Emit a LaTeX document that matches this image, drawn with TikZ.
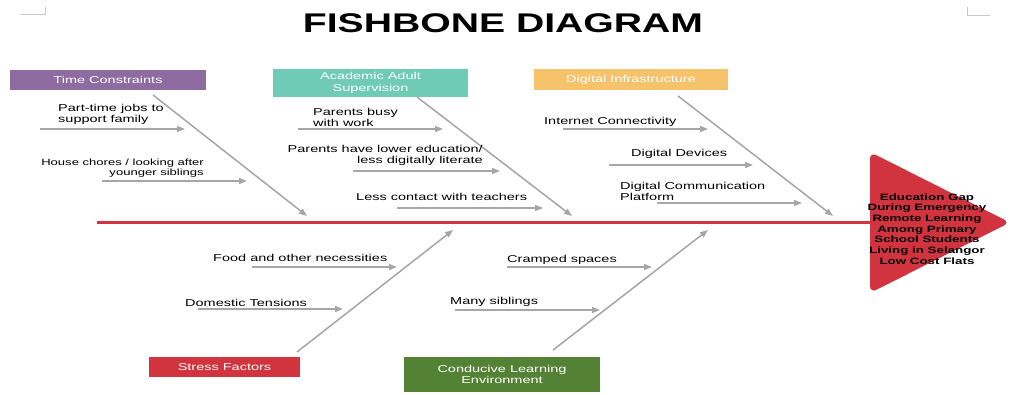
\documentclass[tikz,border=0pt]{standalone}
\usepackage{fontspec}
\setmainfont{Liberation Sans}[FakeStretch=1.45]
\usetikzlibrary{arrows.meta}

\definecolor{bonegray}{HTML}{A6A6A6}
\definecolor{markgray}{HTML}{C8C8C8}
\definecolor{tcpurple}{HTML}{8E6BA0}
\definecolor{acteal}{HTML}{6FCBB5}
\definecolor{diorange}{HTML}{F6C26A}
\definecolor{fishred}{HTML}{D1343E}
\definecolor{clgreen}{HTML}{548235}

\begin{document}
\begin{tikzpicture}[x=1pt,y=-1pt,
  bone/.style={draw=bonegray, line width=1.5pt, -{Triangle[length=8pt,width=6pt]}},
  lbl/.style={font=\fontsize{10}{11}\selectfont, inner sep=0pt, text=black},
  smalllbl/.style={font=\fontsize{9}{10}\selectfont, inner sep=0pt, text=black},
  catbox/.style={font=\fontsize{10}{11.5}\selectfont, text=white, inner sep=0pt, align=center},
  headtxt/.style={font=\bfseries\fontsize{9.2}{10.7}\selectfont, inner sep=0pt, text=black, align=center},
  pagemark/.style={draw=markgray, line width=1pt},
]
\useasboundingbox (0,0) rectangle (1033,394);

% page corner marks
\draw[pagemark] (20,14) -- (45,14) -- (45,7);
\draw[pagemark] (967,7) -- (967,15) -- (990,15);

% title
\node[font=\bfseries\fontsize{27}{30}\selectfont, inner sep=0pt] (title) at (503,23) {FISHBONE DIAGRAM};

% spine and head
\coordinate (tail) at (97,222.5);
\coordinate (headbase) at (872,222.5);
\draw[fishred, line width=3pt] (tail) -- (headbase);
\fill[fishred, rounded corners=7pt] (870,152) -- (1010,222.5) -- (870,293) -- cycle;
\node[headtxt] (effect) at (927,229) {Education Gap\\During Emergency\\Remote Learning\\Among Primary\\School Students\\Living in Selangor\\Low Cost Flats};

% category boxes
\node[catbox, fill=tcpurple, minimum width=196pt, minimum height=20pt] (tc) at (108,80) {Time Constraints};
\node[catbox, fill=acteal, minimum width=195pt, minimum height=28pt] (aas) at (370.5,83) {Academic Adult\\Supervision};
\node[catbox, fill=diorange, minimum width=194pt, minimum height=21pt] (di) at (631,79.5) {Digital Infrastructure};
\node[catbox, fill=fishred, minimum width=151pt, minimum height=20pt] (sf) at (224.5,367) {Stress Factors};
\node[catbox, fill=clgreen, minimum width=196pt, minimum height=35pt] (cle) at (502,374.5) {Conducive Learning\\Environment};

% main bones
\coordinate (tc-s) at (153,95);   \coordinate (tc-e) at (307,216);
\coordinate (aas-s) at (417,97);  \coordinate (aas-e) at (572,216);
\coordinate (di-s) at (678,96);   \coordinate (di-e) at (833,216);
\coordinate (sf-s) at (297,352);  \coordinate (sf-e) at (453,230);
\coordinate (cle-s) at (553,350); \coordinate (cle-e) at (708,230);
\draw[bone] (tc-s) -- (tc-e);
\draw[bone] (aas-s) -- (aas-e);
\draw[bone] (di-s) -- (di-e);
\draw[bone] (sf-s) -- (sf-e);
\draw[bone] (cle-s) -- (cle-e);

% time constraints causes
\node[lbl, anchor=west, align=left] (c1) at (58,114.5) {Part-time jobs to\\support family};
\coordinate (c1-s) at (40,129); \coordinate (c1-e) at (185,129);
\draw[bone] (c1-s) -- (c1-e);
\node[smalllbl, anchor=east, align=right] (c2) at (204,168) {House chores / looking after\\younger siblings};
\coordinate (c2-s) at (102,181); \coordinate (c2-e) at (247,181);
\draw[bone] (c2-s) -- (c2-e);

% adult supervision causes
\node[lbl, anchor=west, align=left] (c3) at (313,117.5) {Parents busy\\with work};
\coordinate (c3-s) at (298,129); \coordinate (c3-e) at (443,129);
\draw[bone] (c3-s) -- (c3-e);
\node[lbl, anchor=east, align=right] (c4) at (483,155.5) {Parents have lower education/\\less digitally literate};
\coordinate (c4-s) at (353,171); \coordinate (c4-e) at (500,171);
\draw[bone] (c4-s) -- (c4-e);
\node[lbl, anchor=base west] (c5) at (356,200.5) {Less contact with teachers};
\coordinate (c5-s) at (397,208); \coordinate (c5-e) at (543,208);
\draw[bone] (c5-s) -- (c5-e);

% digital infrastructure causes
\node[lbl, anchor=base west] (c6) at (544,124.5) {Internet Connectivity};
\coordinate (c6-s) at (563,129); \coordinate (c6-e) at (708,129);
\draw[bone] (c6-s) -- (c6-e);
\node[lbl, anchor=base west] (c7) at (631,156.5) {Digital Devices};
\coordinate (c7-s) at (609,165); \coordinate (c7-e) at (753,165);
\draw[bone] (c7-s) -- (c7-e);
\node[lbl, anchor=west, align=left] (c8) at (620,191.5) {Digital Communication\\Platform};
\coordinate (c8-s) at (657,203); \coordinate (c8-e) at (802,203);
\draw[bone] (c8-s) -- (c8-e);

% stress factors causes
\node[lbl, anchor=base west] (c9) at (213,261.5) {Food and other necessities};
\coordinate (c9-s) at (252,267); \coordinate (c9-e) at (397,267);
\draw[bone] (c9-s) -- (c9-e);
\node[lbl, anchor=base west] (c10) at (185,306.5) {Domestic Tensions};
\coordinate (c10-s) at (198,309); \coordinate (c10-e) at (343,309);
\draw[bone] (c10-s) -- (c10-e);

% learning environment causes
\node[lbl, anchor=base west] (c11) at (507,262.5) {Cramped spaces};
\coordinate (c11-s) at (507,267); \coordinate (c11-e) at (652,267);
\draw[bone] (c11-s) -- (c11-e);
\node[lbl, anchor=base west] (c12) at (450,304.5) {Many siblings};
\coordinate (c12-s) at (455,310); \coordinate (c12-e) at (600,310);
\draw[bone] (c12-s) -- (c12-e);
\end{tikzpicture}
\end{document}
